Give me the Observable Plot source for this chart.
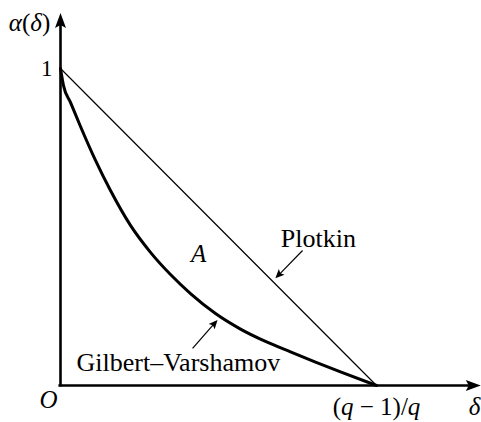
<!DOCTYPE html>
<html>
<head>
<meta charset="utf-8">
<script src="https://cdn.jsdelivr.net/npm/d3@7"></script>
<script src="https://cdn.jsdelivr.net/npm/@observablehq/plot@0.6"></script>
<style>
  html, body { margin: 0; padding: 0; background: #fff; }
  #chart { width: 481px; height: 422px; }
</style>
</head>
<body>
<div id="chart"></div>
<script>
// Relative distance δ, normalised so that 1 stands for (q − 1)/q
const delta = [0, 0.0095, 0.0316, 0.0633, 0.1108, 0.1582, 0.2215, 0.2848, 0.3481, 0.4114, 0.4905, 0.5696, 0.6487, 0.7278, 0.807, 0.8861, 1];
// Gilbert–Varshamov lower bound on the rate α(δ)
const gvAlpha = [1, 0.946, 0.893, 0.817, 0.71, 0.615, 0.505, 0.42, 0.35, 0.29, 0.227, 0.178, 0.139, 0.106, 0.074, 0.043, 0];
// Plotkin upper bound: a straight segment
const plotkinDelta = [0, 1];
const plotkinAlpha = [1, 0];

const xTicks = [1];
const xTickLabels = ["(q − 1)/q"];
const yTicks = [1];
const yTickLabels = ["1"];
const xAxisLabel = "δ";
const yAxisLabel = "α(δ)";
const originLabel = "O";
const regionLabel = "A";
const plotkinLabel = "Plotkin";
const gvLabel = "Gilbert–Varshamov";

const W = 481, H = 422;
const mL = 60, mR = 105, mT = 68, mB = 37;
const kx = (W - mL - mR), ky = (H - mT - mB); // pixels per unit

// Filled arrowhead symbol with its tip at the anchor, pointing up before rotation
const head = (len, half) => ({
  draw(ctx) {
    ctx.moveTo(0, 0);
    ctx.lineTo(half, len);
    ctx.lineTo(0, len * 0.8);
    ctx.lineTo(-half, len);
    ctx.closePath();
  }
});
const pointer = (x1, y1, x2, y2) => {
  const dx = (x2 - x1) * kx, dy = -(y2 - y1) * ky;
  return Math.atan2(dx, -dy) * 180 / Math.PI;
};

const gv = delta.map((d, i) => ({d, a: gvAlpha[i]}));
const plotkin = plotkinDelta.map((d, i) => ({d, a: plotkinAlpha[i]}));

// Annotation pointers (tail → tip)
const notes = [
  {x1: 0.766, y1: 0.426, x2: 0.68, y2: 0.338},
  {x1: 0.418, y1: 0.117, x2: 0.497, y2: 0.207}
];
const shaft = notes.map(n => {
  const L = Math.hypot((n.x2 - n.x1) * kx, (n.y2 - n.y1) * ky);
  const f = (L - 6) / L;
  return {x1: n.x1, y1: n.y1, x2: n.x1 + (n.x2 - n.x1) * f, y2: n.y1 + (n.y2 - n.y1) * f};
});

const chart = Plot.plot({
  width: W, height: H,
  marginLeft: mL, marginRight: mR, marginTop: mT, marginBottom: mB,
  x: {domain: [0, 1], axis: null},
  y: {domain: [0, 1], axis: null},
  style: {fontFamily: "'Liberation Serif', serif", fontSize: "25px", color: "#000", background: "#fff", overflow: "visible"},
  marks: [
    // axes
    Plot.ruleY([0], {x1: -0.005, x2: 1.3, stroke: "#000", strokeWidth: 2.6}),
    Plot.ruleX([0], {y1: -0.005, y2: 1.14, stroke: "#000", strokeWidth: 2.6}),
    Plot.dot([{x: 1.33, y: 0, r: 90}, {x: 0, y: 1.175, r: 0}], {
      x: "x", y: "y", rotate: "r", symbol: head(15, 5.5), fill: "#000", stroke: "none", r: 5
    }),
    // bounds
    Plot.line(plotkin, {x: "d", y: "a", stroke: "#000", strokeWidth: 1.2}),
    Plot.line(gv, {x: "d", y: "a", stroke: "#000", strokeWidth: 3, curve: "monotone-x"}),
    // annotation pointers
    Plot.link(shaft, {x1: "x1", y1: "y1", x2: "x2", y2: "y2", stroke: "#000", strokeWidth: 1.2}),
    Plot.dot(notes, {
      x: "x2", y: "y2", rotate: n => pointer(n.x1, n.y1, n.x2, n.y2),
      symbol: head(9, 4), fill: "#000", stroke: "none", r: 5
    }),
    // tick labels
    Plot.text(xTicks, {x: d => d, y: 0, text: (d, i) => xTickLabels[i], dy: 21, lineAnchor: "middle"}),
    Plot.text(yTicks, {x: 0, y: d => d, text: (d, i) => yTickLabels[i], dx: -8, textAnchor: "end", lineAnchor: "middle", fontSize: 23}),
    Plot.text([originLabel], {x: 0, y: 0, text: d => d, dx: -12, dy: 14, lineAnchor: "middle"}),
    Plot.text([xAxisLabel], {x: 1.31, y: 0, text: d => d, dy: 21, lineAnchor: "middle"}),
    Plot.text([yAxisLabel], {x: 0, y: 1.145, text: d => d, dx: -31, lineAnchor: "middle"}),
    // region and curve names
    Plot.text([regionLabel], {x: 0.437, y: 0.416, text: d => d, lineAnchor: "middle"}),
    Plot.text([plotkinLabel], {x: 0.816, y: 0.464, text: d => d, lineAnchor: "middle", fontSize: 26}),
    Plot.text([gvLabel], {x: 0.373, y: 0.073, text: d => d, lineAnchor: "middle", fontSize: 26})
  ]
});

// Set the letters of mathematical labels in italic
const mathLabels = new Set([xTickLabels[0], yAxisLabel, xAxisLabel, originLabel, regionLabel]);
const italicChars = new Set(["q", "δ", "α", "A", "O"]);
chart.querySelectorAll("text").forEach(t => {
  const s = t.textContent;
  if (!mathLabels.has(s)) return;
  while (t.firstChild) t.removeChild(t.firstChild);
  for (const ch of s) {
    const sp = document.createElementNS("http://www.w3.org/2000/svg", "tspan");
    sp.textContent = ch;
    if (italicChars.has(ch)) sp.setAttribute("font-style", "italic");
    t.appendChild(sp);
  }
});

document.getElementById("chart").appendChild(chart);
</script>
</body>
</html>
